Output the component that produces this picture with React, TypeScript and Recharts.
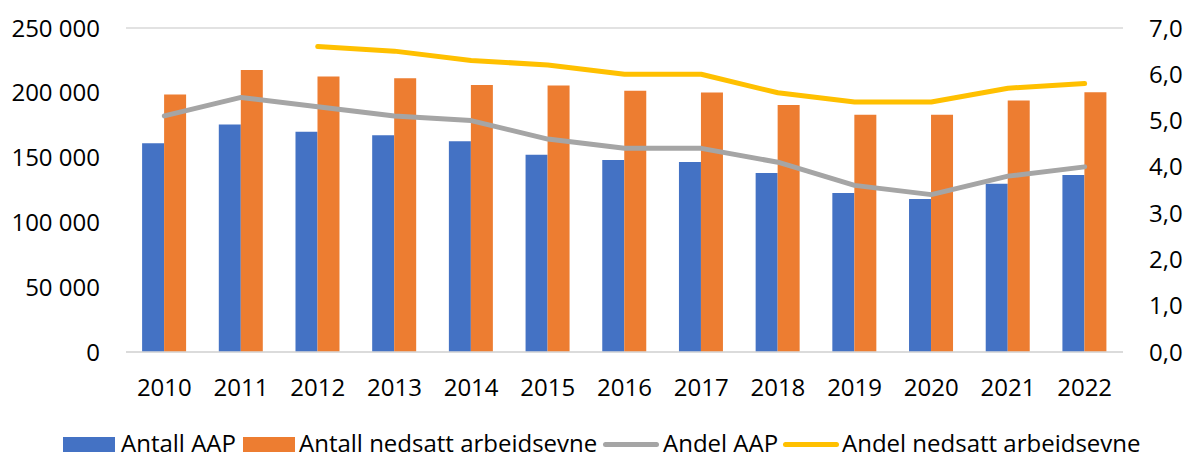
import React from 'react';
import { ComposedChart, Bar, Line, XAxis, YAxis, CartesianGrid, Legend } from 'recharts';

const years = ['2010','2011','2012','2013','2014','2015','2016','2017','2018','2019','2020','2021','2022'];
const antallAAP = [161000,175600,169900,167300,162700,152200,148100,146600,138100,122700,118100,129900,136500];
const antallNedsatt = [198600,217600,212500,211200,206100,205600,201500,200200,190500,183000,183000,194000,200500];
const andelAAP = [5.1,5.5,5.3,5.1,5.0,4.6,4.4,4.4,4.1,3.6,3.4,3.8,4.0];
const andelNedsatt: (number|null)[] = [null,null,6.6,6.5,6.3,6.2,6.0,6.0,5.6,5.4,5.4,5.7,5.8];
const leftTicks = [0,50000,100000,150000,200000,250000];
const rightTicks = [0,1,2,3,4,5,6,7];

const data = years.map((y,i)=>({year:y, aap:antallAAP[i], ned:antallNedsatt[i], andelAap:andelAAP[i], andelNed:andelNedsatt[i]}));

const FONT = '"Open Sans", sans-serif';
const FS = 24;
const fmtLeft = (v:number) => v === 0 ? '0' : `${Math.floor(v/1000)}\u00a0${String(v%1000).padStart(3,'0')}`;
const fmtRight = (v:number) => v.toFixed(1).replace('.', ',');

const legendItems = [
  { label: 'Antall AAP', color: '#4472C4', type: 'rect', mx: 63, tx: 121 },
  { label: 'Antall nedsatt arbeidsevne', color: '#ED7D31', type: 'rect', mx: 243, tx: 299 },
  { label: 'Andel AAP', color: '#A5A5A5', type: 'line', mx: 603, tx: 663 },
  { label: 'Andel nedsatt arbeidsevne', color: '#FFC000', type: 'line', mx: 783, tx: 842 },
];

const LegendContent = () => (
  <div style={{position:'relative', height:50, width:1186, fontFamily:FONT, fontSize:FS, color:'#000', whiteSpace:'nowrap'}}>
    {legendItems.map((it)=>(
      <React.Fragment key={it.label}>
        {it.type==='rect'
          ? <div style={{position:'absolute', left:it.mx, top:35, width:52, height:20, background:it.color}}/>
          : <div style={{position:'absolute', left:it.mx, top:39.5, width:56, height:5, borderRadius:3, background:it.color}}/>}
        <span style={{position:'absolute', left:it.tx, top:24, lineHeight:'33px'}}>{it.label}</span>
      </React.Fragment>
    ))}
  </div>
);

export default function App() {
  return (
    <div style={{position:'absolute', left:0, top:0, width:1186, height:452, overflow:'hidden', background:'#fff'}}>
      <ComposedChart width={1186} height={452} data={data} margin={{top:28, right:0, left:0, bottom:0}} barGap={0} barCategoryGap="21%">
        <CartesianGrid vertical={false} stroke="#D9D9D9" strokeWidth={1.5} />
        <XAxis dataKey="year" height={50} tickSize={0} tickMargin={27} axisLine={{stroke:'#D9D9D9', strokeWidth:1.5}} tickLine={false} tick={{fontFamily:FONT, fontSize:FS, fill:'#000'}} interval={0} />
        <YAxis yAxisId="left" width={126} domain={[0,250000]} ticks={leftTicks} tickFormatter={fmtLeft} tickSize={0} tickMargin={26} axisLine={false} tickLine={false} tick={{fontFamily:FONT, fontSize:FS, fill:'#000'}} />
        <YAxis yAxisId="right" orientation="right" width={63} domain={[0,7]} ticks={rightTicks} tickFormatter={fmtRight} tickSize={0} tickMargin={26} axisLine={false} tickLine={false} tick={{fontFamily:FONT, fontSize:FS, fill:'#000', textAnchor:'start'}} />
        <Bar yAxisId="left" dataKey="aap" name="Antall AAP" fill="#4472C4" isAnimationActive={false} />
        <Bar yAxisId="left" dataKey="ned" name="Antall nedsatt arbeidsevne" fill="#ED7D31" isAnimationActive={false} />
        <Line yAxisId="right" dataKey="andelAap" name="Andel AAP" stroke="#A5A5A5" strokeWidth={5} dot={false} strokeLinecap="round" strokeLinejoin="round" isAnimationActive={false} />
        <Line yAxisId="right" dataKey="andelNed" name="Andel nedsatt arbeidsevne" stroke="#FFC000" strokeWidth={5} dot={false} strokeLinecap="round" strokeLinejoin="round" isAnimationActive={false} />
        <Legend verticalAlign="bottom" height={50} content={<LegendContent/>} />
      </ComposedChart>
    </div>
  );
}
